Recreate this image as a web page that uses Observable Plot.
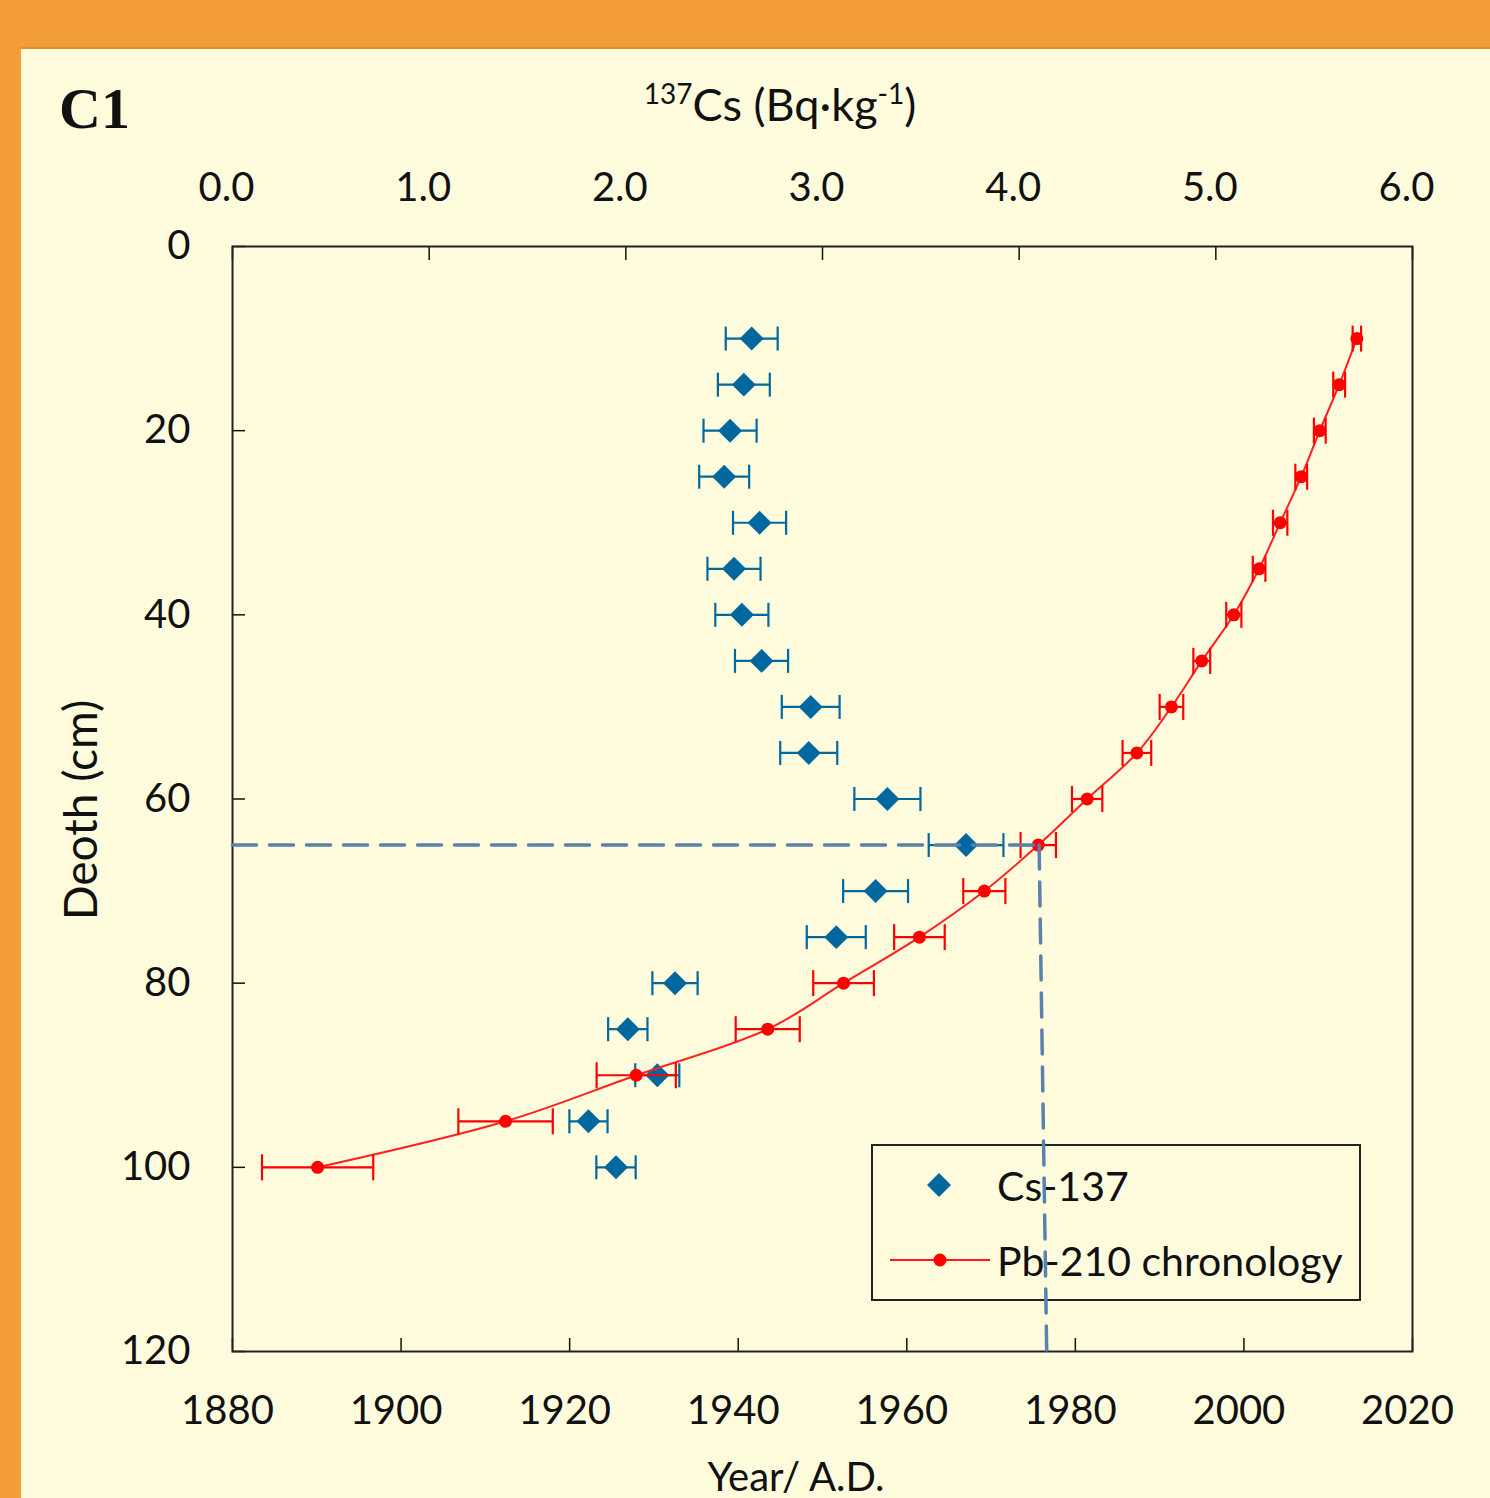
<!DOCTYPE html>
<html><head><meta charset="utf-8">
<script src="https://cdn.jsdelivr.net/npm/d3@7"></script>
<script src="https://cdn.jsdelivr.net/npm/@observablehq/plot@0.6"></script>
<style>
html,body{margin:0;padding:0;}
body{width:1490px;height:1498px;background:#F39D38;position:relative;overflow:hidden;font-family:Lato,"Open Sans",sans-serif;color:#111;}
#panel{position:absolute;left:21px;top:47px;right:0;bottom:0;background:#FFFCDD;border-top:2px solid #D9913A;}
#chart{position:absolute;left:0;top:0;}
.lbl{position:absolute;white-space:nowrap;}
#c1{left:59px;top:80px;font-family:"Liberation Serif",serif;font-weight:bold;font-size:58px;line-height:1;}
#title{left:0;width:1560px;text-align:center;top:82px;font-size:45px;line-height:1;}
#title sup{font-size:28px;vertical-align:top;position:relative;top:-3px;}
#ylab{left:80px;top:810px;font-size:46px;line-height:1;transform:translate(-50%,-50%) rotate(-90deg);}
#xlab{left:796px;top:1456px;font-size:40px;line-height:1;transform:translateX(-50%);}
#legend{position:absolute;left:871px;top:1144px;width:486px;height:153px;border:2px solid #222;}
#legend .row{position:absolute;left:0;font-size:41px;line-height:1;}
</style></head>
<body>
<div id="panel"></div>
<div id="legend">
  <svg width="486" height="153" style="position:absolute;left:0;top:0">
    <path d="M66,27 L78,39 L66,51 L54,39 Z" fill="#00689E"/>
    <line x1="17" x2="117" y1="114" y2="114" stroke="#FF1A1A" stroke-width="2"/>
    <circle cx="67" cy="114" r="6.5" fill="#FF0000"/>
  </svg>
  <div class="row" style="left:124px;top:19px">Cs-137</div>
  <div class="row" style="left:124px;top:94px">Pb-210 chronology</div>
</div>
<div id="chart"></div>
<div class="lbl" id="c1">C1</div>
<div class="lbl" id="title"><sup>137</sup>Cs (Bq·kg<sup>-1</sup>)</div>
<div class="lbl" id="ylab">Deoth (cm)</div>
<div class="lbl" id="xlab">Year/ A.D.</div>
<script>
// ---- data ----
const depths = [10, 15, 20, 25, 30, 35, 40, 45, 50, 55, 60, 65, 70, 75, 80, 85, 90, 95, 100];
const csValues = [2.64, 2.60, 2.53, 2.50, 2.68, 2.55, 2.59, 2.69, 2.94, 2.93, 3.33, 3.73, 3.27, 3.07, 2.25, 2.01, 2.16, 1.81, 1.95];
const csErrors = [0.132, 0.132, 0.135, 0.127, 0.135, 0.135, 0.135, 0.135, 0.147, 0.145, 0.168, 0.19, 0.165, 0.15, 0.115, 0.10, 0.112, 0.097, 0.10];
const pbYears = [2013.4, 2011.3, 2009.0, 2006.8, 2004.3, 2001.8, 1998.8, 1995.0, 1991.4, 1987.3, 1981.4, 1975.6, 1969.2, 1961.5, 1952.5, 1943.5, 1927.9, 1912.4, 1890.1];
const pbErrors = [0.5, 0.7, 0.7, 0.7, 0.85, 0.75, 0.9, 1.0, 1.4, 1.7, 1.8, 2.1, 2.5, 3.0, 3.6, 3.8, 4.7, 5.6, 6.6];
const yearTicks = [1880, 1900, 1920, 1940, 1960, 1980, 2000, 2020];
const csTicks = [0, 1, 2, 3, 4, 5, 6];
const depthTicks = [0, 20, 40, 60, 80, 100, 120];
const markerH = [{year: 1880, depth: 65}, {year: 1975.7, depth: 65}];
const markerV = [{year: 1975.7, depth: 65}, {year: 1976.6, depth: 120}];

const blue = "#00689E", red = "#FF0000", dashColor = "#5A80AC";
const csToYear = d3.scaleLinear().domain([0, 6]).range([1880, 2020]);
const cs = depths.map((d, i) => ({depth: d, year: csToYear(csValues[i]), lo: csToYear(csValues[i] - csErrors[i]), hi: csToYear(csValues[i] + csErrors[i])}));
const pb = depths.map((d, i) => ({depth: d, year: pbYears[i], lo: pbYears[i] - pbErrors[i], hi: pbYears[i] + pbErrors[i]}));
const cap = {draw(ctx, size) { const r = Math.sqrt(size / Math.PI); ctx.moveTo(0, -r); ctx.lineTo(0, r); }};

const chart = Plot.plot({
  width: 1490, height: 1498,
  marginLeft: 232, marginRight: 78, marginTop: 246, marginBottom: 147,
  style: {background: "transparent", fontFamily: "Lato, 'Open Sans', sans-serif", fontSize: "40px", color: "#111", overflow: "visible"},
  x: {domain: [1880, 2020]},
  y: {domain: [0, 120], reverse: true},
  marks: [
    Plot.axisX(yearTicks, {anchor: "bottom", tickSize: 0, tickPadding: 44, dx: -5, tickFormat: d => String(d), label: null, fontSize: 40}),
    Plot.axisX(yearTicks, {anchor: "bottom", tickSize: -13, fill: "none", label: null, strokeWidth: 1.5}),
    Plot.axisX(csTicks.map(csToYear), {anchor: "top", tickSize: 0, tickPadding: 46, dx: -6, tickFormat: d => csToYear.invert(d).toFixed(1), label: null, fontSize: 40}),
    Plot.axisX(csTicks.map(csToYear), {anchor: "top", tickSize: -13, fill: "none", label: null, strokeWidth: 1.5}),
    Plot.axisY(depthTicks, {anchor: "left", tickSize: 0, tickPadding: 42, label: null, fontSize: 40}),
    Plot.axisY(depthTicks, {anchor: "left", tickSize: -13, fill: "none", label: null, strokeWidth: 1.5}),
    Plot.frame({stroke: "#222", strokeWidth: 2}),
    // Cs-137
    Plot.ruleY(cs, {y: "depth", x1: "lo", x2: "hi", stroke: blue, strokeWidth: 2.2}),
    Plot.dot(cs, {x: "lo", y: "depth", symbol: cap, r: 12, stroke: blue, strokeWidth: 2.2, fill: "none"}),
    Plot.dot(cs, {x: "hi", y: "depth", symbol: cap, r: 12, stroke: blue, strokeWidth: 2.2, fill: "none"}),
    Plot.dot(cs, {x: "year", y: "depth", symbol: "diamond2", r: 10.8, fill: blue, stroke: "none"}),
    // Pb-210
    Plot.line(pb, {x: "year", y: "depth", stroke: "#FF2020", strokeWidth: 2, curve: "catmull-rom"}),
    Plot.ruleY(pb, {y: "depth", x1: "lo", x2: "hi", stroke: red, strokeWidth: 2.2}),
    Plot.dot(pb, {x: "lo", y: "depth", symbol: cap, r: 13, stroke: red, strokeWidth: 2.2, fill: "none"}),
    Plot.dot(pb, {x: "hi", y: "depth", symbol: cap, r: 13, stroke: red, strokeWidth: 2.2, fill: "none"}),
    Plot.dot(pb, {x: "year", y: "depth", r: 6.5, fill: red, stroke: "none"}),
    // dashed markers
    Plot.line(markerH, {x: "year", y: "depth", stroke: dashColor, strokeWidth: 3.5, strokeDasharray: "24,13"}),
    Plot.line(markerV, {x: "year", y: "depth", stroke: dashColor, strokeWidth: 3.5, strokeDasharray: "24,13"})
  ]
});
document.getElementById("chart").appendChild(chart);
</script>
</body></html>
